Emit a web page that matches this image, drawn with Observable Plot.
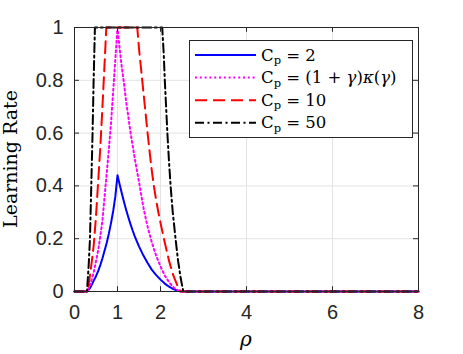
<!DOCTYPE html>
<html>
<head>
<meta charset="utf-8">
<script src="https://cdn.jsdelivr.net/npm/d3@7"></script>
<script src="https://cdn.jsdelivr.net/npm/@observablehq/plot@0.6"></script>
<style>
  html, body { margin: 0; padding: 0; background: white; }
</style>
</head>
<body>
<div id="chart"></div>
<script>
// ---- data (rho, learning rate) ----
const xTicks = [0, 1, 2, 4, 6, 8];
const yTicks = [0, 0.2, 0.4, 0.6, 0.8, 1];

const rhoBlue = [0, 0.29, 0.35, 0.40, 0.45, 0.50, 0.55, 0.60, 0.65, 0.70, 0.75, 0.80, 0.85, 0.90, 0.95, 1.00,
  1.05, 1.10, 1.15, 1.20, 1.25, 1.30, 1.35, 1.40, 1.45, 1.50, 1.60, 1.70, 1.80, 1.90, 2.00, 2.10, 2.20, 2.30, 2.40, 2.47, 8];
const lrBlue = [0, 0, 0.01, 0.025, 0.042, 0.058, 0.077, 0.100, 0.126, 0.155, 0.185, 0.22, 0.26, 0.305, 0.36, 0.44,
  0.405, 0.372, 0.34, 0.31, 0.282, 0.256, 0.232, 0.21, 0.19, 0.171, 0.137, 0.108, 0.082, 0.062, 0.045, 0.03, 0.018, 0.009, 0.003, 0, 0];

const rhoPink = [0, 0.30, 0.35, 0.40, 0.45, 0.50, 0.55, 0.60, 0.65, 0.70, 0.75, 0.80, 0.85, 0.90, 0.95, 1.00,
  1.05, 1.10, 1.15, 1.20, 1.25, 1.30, 1.35, 1.40, 1.45, 1.50, 1.60, 1.70, 1.80, 1.90, 2.00, 2.10, 2.20, 2.30, 2.40, 2.47, 8];
const lrPink = [0, 0, 0.02, 0.045, 0.075, 0.115, 0.155, 0.21, 0.27, 0.36, 0.45, 0.54, 0.64, 0.76, 0.88, 1.0,
  0.92, 0.85, 0.79, 0.72, 0.665, 0.605, 0.555, 0.505, 0.46, 0.415, 0.32, 0.245, 0.185, 0.135, 0.095, 0.06, 0.035, 0.016, 0.005, 0, 0];

const rhoRed = [0, 0.30, 0.35, 0.40, 0.45, 0.50, 0.55, 0.60, 0.65, 0.70, 0.74,
  1.46, 1.50, 1.55, 1.60, 1.65, 1.70, 1.75, 1.80, 1.85, 1.90, 1.95, 2.00, 2.10, 2.20, 2.30, 2.40, 2.47, 8];
const lrRed = [0, 0, 0.05, 0.11, 0.18, 0.285, 0.415, 0.545, 0.70, 0.865, 1.0,
  1.0, 0.92, 0.84, 0.76, 0.68, 0.60, 0.525, 0.455, 0.395, 0.345, 0.30, 0.26, 0.185, 0.115, 0.06, 0.02, 0, 0];

const rhoBlack = [0, 0.29, 0.33, 0.36, 0.39, 0.42, 0.445, 0.475,
  2.04, 2.075, 2.10, 2.13, 2.16, 2.195, 2.235, 2.285, 2.35, 2.41, 2.47, 2.53, 8];
const lrBlack = [0, 0, 0.1, 0.2, 0.4, 0.6, 0.8, 1.0,
  1.0, 0.9, 0.8, 0.7, 0.6, 0.5, 0.4, 0.3, 0.2, 0.115, 0.05, 0, 0];

const toRows = (xs, ys) => xs.map((r, i) => ({rho: r, lr: ys[i]}));
const blue = toRows(rhoBlue, lrBlue);
const pink = toRows(rhoPink, lrPink);
const red = toRows(rhoRed, lrRed);
const black = toRows(rhoBlack, lrBlack);

const axisColor = "#262626";
const gridColor = "#e3e3e3";
const dotDash = "2,2.8";
const dashDash = "12,6";
const dashDot = "9,3.5,2,3.5";

const svg = Plot.plot({
  width: 463,
  height: 354,
  marginLeft: 74,
  marginRight: 45,
  marginTop: 27,
  marginBottom: 63,
  style: {fontFamily: "'Liberation Sans', Arial, sans-serif", fontSize: "20px", background: "white", color: axisColor},
  x: {domain: [0, 8], label: null},
  y: {domain: [0, 1], label: null},
  marks: [
    Plot.gridX(xTicks, {stroke: gridColor, strokeOpacity: 1}),
    Plot.gridY(yTicks, {stroke: gridColor, strokeOpacity: 1}),
    Plot.line(blue, {x: "rho", y: "lr", stroke: "#0000ff", strokeWidth: 2}),
    Plot.line(pink, {x: "rho", y: "lr", stroke: "#ff00ff", strokeWidth: 2, strokeDasharray: dotDash}),
    Plot.line(red, {x: "rho", y: "lr", stroke: "#ff0000", strokeWidth: 2, strokeDasharray: dashDash}),
    Plot.line(black, {x: "rho", y: "lr", stroke: "#000000", strokeWidth: 2, strokeDasharray: dashDot}),
    // inward tick marks
    Plot.ruleX(xTicks, {y1: 0, y2: 0.018, stroke: axisColor}),
    Plot.ruleX(xTicks, {y1: 1, y2: 0.982, stroke: axisColor}),
    Plot.ruleY(yTicks, {x1: 0, x2: 0.116, stroke: axisColor}),
    Plot.ruleY(yTicks, {x1: 8, x2: 7.884, stroke: axisColor}),
    Plot.frame({stroke: axisColor}),
    Plot.axisX(xTicks, {tickSize: 0, tickPadding: 13, tickFormat: d => String(d), fill: axisColor, fontSize: 20}),
    Plot.axisY(yTicks, {tickSize: 0, tickPadding: 11, tickFormat: d => String(d), fill: axisColor, fontSize: 20})
  ]
});

const s = d3.select(svg);
const serif = "'DejaVu Serif', 'Liberation Serif', serif";

// axis titles
s.append("text")
  .attr("transform", "translate(17,159) rotate(-90)")
  .attr("text-anchor", "middle")
  .attr("font-family", serif)
  .attr("font-size", 19)
  .attr("fill", "#000")
  .text("Learning Rate");

s.append("text")
  .attr("x", 246).attr("y", 346)
  .attr("text-anchor", "middle")
  .attr("font-family", serif)
  .attr("font-style", "italic")
  .attr("font-size", 20)
  .attr("fill", "#000")
  .text("ρ");

// legend
const legendItems = [
  {color: "#0000ff", dash: null, parts: [["C", ""], ["p", "sub"], [" = 2", ""]]},
  {color: "#ff00ff", dash: dotDash, parts: [["C", ""], ["p", "sub"], [" = (1 + ", ""], ["γ", "it"], [")", ""], ["κ", "it"], ["(", ""], ["γ", "it"], [")", ""]]},
  {color: "#ff0000", dash: dashDash, parts: [["C", ""], ["p", "sub"], [" = 10", ""]]},
  {color: "#000000", dash: dashDot, parts: [["C", ""], ["p", "sub"], [" = 50", ""]]}
];
const lg = s.append("g");
lg.append("rect")
  .attr("x", 189.5).attr("y", 40.5).attr("width", 223).attr("height", 97)
  .attr("fill", "white").attr("stroke", axisColor).attr("stroke-width", 1);
legendItems.forEach((it, i) => {
  const y = 55 + i * 22.6;
  lg.append("line")
    .attr("x1", 195).attr("x2", 256).attr("y1", y).attr("y2", y)
    .attr("stroke", it.color).attr("stroke-width", 2)
    .attr("stroke-dasharray", it.dash);
  const t = lg.append("text")
    .attr("x", 261).attr("y", y + 5.5)
    .attr("text-anchor", "start")
    .attr("font-family", serif).attr("font-size", 16.5).attr("fill", "#000")
    .style("white-space", "pre");
  let shifted = false;
  it.parts.forEach(([txt, kind]) => {
    const sp = t.append("tspan").text(txt);
    if (kind === "sub") { sp.attr("font-size", 11.5).attr("dy", 3.5); shifted = true; }
    else {
      if (shifted) { sp.attr("dy", -3.5); shifted = false; }
      if (kind === "it") sp.attr("font-style", "italic");
    }
  });
});

document.getElementById("chart").appendChild(svg);
</script>
</body>
</html>
